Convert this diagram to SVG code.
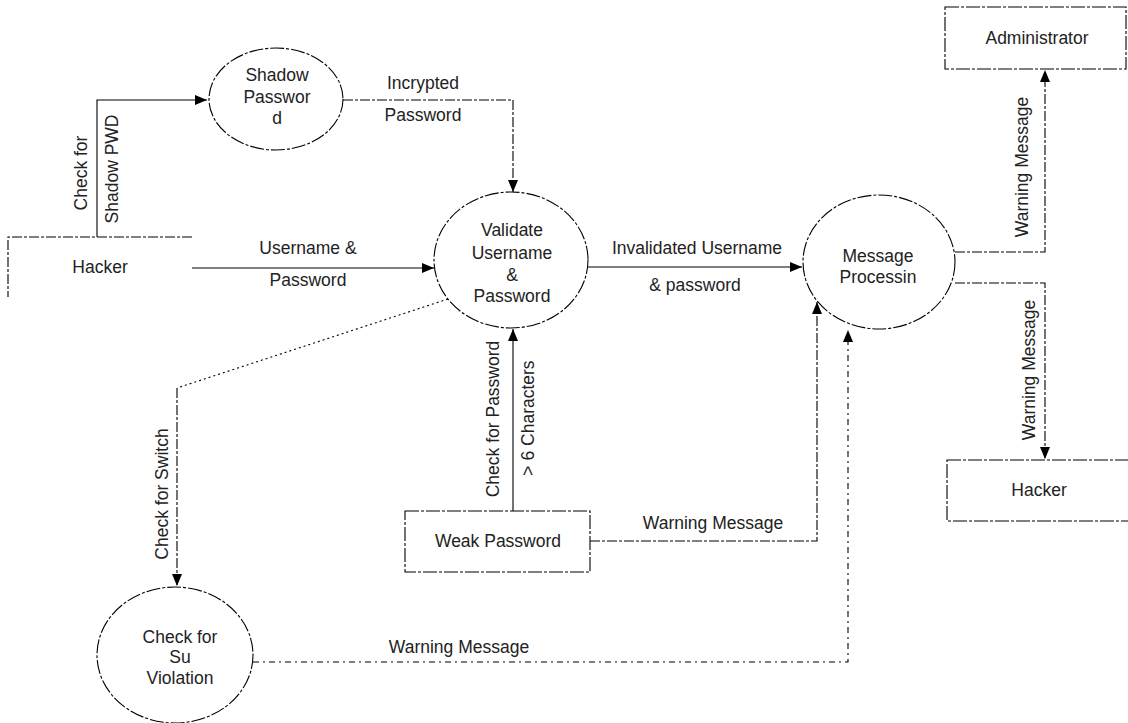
<svg xmlns="http://www.w3.org/2000/svg" width="1128" height="723" viewBox="0 0 1128 723">
<defs>
<marker id="arr" viewBox="0 0 12 10" refX="12" refY="5" markerWidth="12" markerHeight="10" markerUnits="userSpaceOnUse" orient="auto">
<path d="M0,0 L12,5 L0,10 z" fill="#000"/>
</marker>
<style>
text{font-family:"Liberation Sans",Arial,sans-serif;font-size:17.5px;fill:#222;text-anchor:middle;dominant-baseline:central}
.shape{fill:#fff;stroke:#000;stroke-width:1.1;stroke-dasharray:14 2 3 2}
.c{fill:none;stroke:#000;stroke-width:1.1}
.dash{stroke-dasharray:10 2 3 2}
.dot{stroke-dasharray:2 3}
.dd{stroke-dasharray:6 4 2 4}
</style>
</defs>
<rect width="1128" height="723" fill="#fff"/>
<g id="connectors">
<path class="c" d="M97,237 V100 H207" marker-end="url(#arr)"/>
<path class="c dash" d="M343,100 H513 V192" marker-end="url(#arr)"/>
<path class="c" d="M192,268 H434" marker-end="url(#arr)"/>
<path class="c" d="M588,267 H802" marker-end="url(#arr)"/>
<path class="c dash" d="M955,252 H1045 V70" marker-end="url(#arr)"/>
<path class="c dash" d="M955,283 H1045 V459" marker-end="url(#arr)"/>
<path class="c dot" d="M448,299 L177,388"/>
<path class="c dash" d="M177,388 V586" marker-end="url(#arr)"/>
<path class="c" d="M513,511 V329" marker-end="url(#arr)"/>
<path class="c dash" d="M590,541 H817 V302" marker-end="url(#arr)"/>
<path class="c dd" d="M253,662 H848 V330" marker-end="url(#arr)"/>
<text x="81" y="173" transform="rotate(-90 81 173)">Check for</text>
<text x="112" y="169" transform="rotate(-90 112 169)">Shadow PWD</text>
<text x="423" y="83">Incrypted</text>
<text x="423" y="115">Password</text>
<text x="308" y="248">Username &amp;</text>
<text x="308" y="280">Password</text>
<text x="697" y="248">Invalidated Username</text>
<text x="695" y="285">&amp; password</text>
<text x="1022" y="167" transform="rotate(-90 1022 167)">Warning Message</text>
<text x="1029" y="370" transform="rotate(-90 1029 370)">Warning Message</text>
<text x="162" y="494" transform="rotate(-90 162 494)">Check for Switch</text>
<text x="493" y="419" transform="rotate(-90 493 419)">Check for Password</text>
<text x="528" y="418" transform="rotate(-90 528 418)">&gt; 6 Characters</text>
<text x="713" y="523">Warning Message</text>
<text x="459" y="647">Warning Message</text>
</g>
<g id="hacker-left">
<path class="c dash" d="M192,237 H8 V297"/>
<text x="100" y="267">Hacker</text>
</g>
<g id="shadow-password">
<ellipse class="shape" cx="276" cy="99" rx="67" ry="51"/>
<text x="277" y="75">Shadow</text>
<text x="277" y="97">Passwor</text>
<text x="277" y="118">d</text>
</g>
<g id="validate">
<ellipse class="shape" cx="511" cy="260" rx="77" ry="68"/>
<text x="512" y="230">Validate</text>
<text x="512" y="253">Username</text>
<text x="512" y="275">&amp;</text>
<text x="512" y="296">Password</text>
</g>
<g id="message-processing">
<ellipse class="shape" cx="879" cy="262" rx="76" ry="67"/>
<text x="878" y="256">Message</text>
<text x="878" y="277">Processin</text>
</g>
<g id="administrator">
<rect class="shape" x="945" y="7" width="181" height="62"/>
<text x="1037" y="38">Administrator</text>
</g>
<g id="hacker-right">
<rect class="shape" x="947" y="460" width="200" height="61"/>
<text x="1039" y="490">Hacker</text>
</g>
<g id="weak-password">
<rect class="shape" x="405" y="511" width="185" height="61"/>
<text x="498" y="541">Weak Password</text>
</g>
<g id="check-su">
<ellipse class="shape" cx="175" cy="655" rx="78" ry="68"/>
<text x="180" y="637">Check for</text>
<text x="180" y="657">Su</text>
<text x="180" y="678">Violation</text>
</g>
</svg>
